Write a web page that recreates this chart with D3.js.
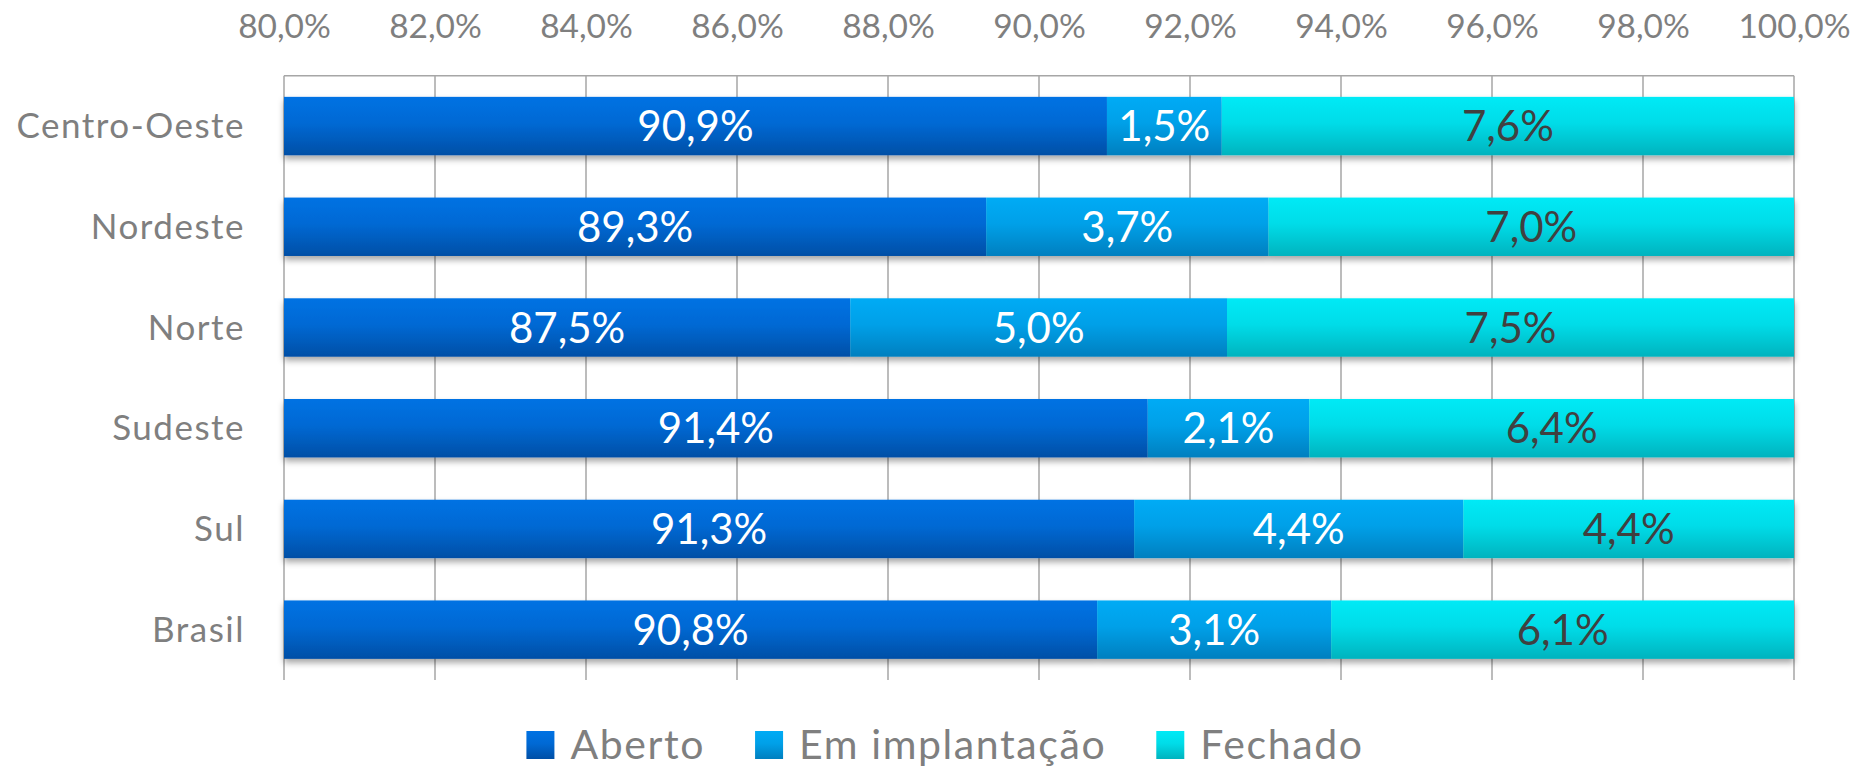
<!DOCTYPE html>
<html>
<head>
<meta charset="utf-8">
<script src="https://cdn.jsdelivr.net/npm/d3@7/dist/d3.min.js"></script>
<style>
  html, body { margin: 0; padding: 0; background: #ffffff; }
  svg { display: block; font-family: Lato, "Open Sans", sans-serif; }
</style>
</head>
<body>
<svg id="chart" width="1854" height="769"></svg>
<script>
// ---- Data ----
const categories = ["Centro-Oeste", "Nordeste", "Norte", "Sudeste", "Sul", "Brasil"];
const seriesNames = ["Aberto", "Em implantação", "Fechado"];
const aberto = [90.90, 89.30, 87.50, 91.44, 91.26, 90.77];
const emImplantacao = [1.52, 3.74, 4.99, 2.14, 4.36, 3.10];
const fechado = [7.58, 6.96, 7.51, 6.42, 4.38, 6.13];
const tickValues = [80, 82, 84, 86, 88, 90, 92, 94, 96, 98, 100];

const seriesValues = [aberto, emImplantacao, fechado];
const colorsTop = ["#0072e3", "#00abf5", "#00eaf6"];
const colorsBottom = ["#004fa6", "#007fbf", "#00b3be"];
const labelColors = ["#ffffff", "#ffffff", "#404040"];

const locale = d3.formatLocale({decimal: ",", thousands: ".", grouping: [3], currency: ["R$", ""]});
const fmt = locale.format(".1f");

const svg = d3.select("#chart");

const x = d3.scaleLinear().domain([80, 100]).range([284, 1794]).clamp(true);
const y = d3.scaleBand().domain(categories).range([75.7, 680]).paddingInner(0.42).paddingOuter(0.21);

// defs: gradients + shadow
const defs = svg.append("defs");
seriesNames.forEach((s, i) => {
  const g = defs.append("linearGradient").attr("id", "grad" + i)
    .attr("x1", 0).attr("y1", 0).attr("x2", 0).attr("y2", 1);
  g.append("stop").attr("offset", "0%").attr("stop-color", colorsTop[i]);
  g.append("stop").attr("offset", "45%").attr("stop-color", d3.interpolateRgb(colorsTop[i], colorsBottom[i])(0.25));
  g.append("stop").attr("offset", "100%").attr("stop-color", colorsBottom[i]);
});
const f = defs.append("filter").attr("id", "shadow").attr("x", "-5%").attr("y", "-30%").attr("width", "110%").attr("height", "170%");
f.append("feDropShadow").attr("dx", 0).attr("dy", 4).attr("stdDeviation", 3)
  .attr("flood-color", "#000").attr("flood-opacity", 0.35);

// gridlines
const grid = svg.append("g");
grid.selectAll("line.v").data(tickValues).enter().append("line")
  .attr("x1", d => x(d)).attr("x2", d => x(d))
  .attr("y1", y.range()[0]).attr("y2", y.range()[1])
  .attr("stroke", "#a6a6a6").attr("stroke-width", 1.5);
grid.append("line")
  .attr("x1", x(80)).attr("x2", x(100))
  .attr("y1", y.range()[0]).attr("y2", y.range()[0])
  .attr("stroke", "#a6a6a6").attr("stroke-width", 1.5);

// top axis labels
const axisTop = d3.axisTop(x).tickValues(tickValues).tickSize(0).tickPadding(0)
  .tickFormat(d => fmt(d) + "%");
const axG = svg.append("g").attr("transform", "translate(0,38)").call(axisTop);
axG.select(".domain").remove();
axG.selectAll("text").attr("font-size", 33.5).attr("fill", "#7f7f7f")
  .attr("font-family", "Lato, sans-serif").attr("dy", 0);

// category labels
const axisLeft = d3.axisLeft(y).tickSize(0).tickPadding(0);
const ayG = svg.append("g").attr("transform", "translate(245,0)").call(axisLeft);
ayG.select(".domain").remove();
ayG.selectAll("text").attr("font-size", 35).attr("fill", "#7f7f7f")
  .attr("letter-spacing", 1.5)
  .attr("font-family", "Lato, sans-serif").attr("dy", "0.35em");

// stacked data
const rows = categories.map((c, ci) => {
  let acc = 0;
  return seriesValues.map((arr, si) => {
    const v = arr[ci];
    const seg = {cat: c, si, v, x0: acc, x1: acc + v};
    acc += v;
    return seg;
  });
});

const barsG = svg.append("g");
rows.forEach(row => {
  const g = barsG.append("g").attr("filter", "url(#shadow)");
  g.selectAll("rect").data(row).enter().append("rect")
    .attr("x", d => x(d.x0))
    .attr("width", d => Math.max(0, x(d.x1) - x(d.x0)))
    .attr("y", d => y(d.cat))
    .attr("height", y.bandwidth())
    .attr("fill", d => `url(#grad${d.si})`);
});

const labelsG = svg.append("g");
rows.forEach(row => {
  labelsG.selectAll(null).data(row).enter().append("text")
    .attr("x", d => (x(d.x0) + x(d.x1)) / 2)
    .attr("y", d => y(d.cat) + y.bandwidth() / 2)
    .attr("dy", "0.36em")
    .attr("text-anchor", "middle")
    .attr("font-size", 42)
    .attr("fill", d => labelColors[d.si])
    .text(d => fmt(d.v) + "%");
});

// legend
const legend = svg.append("g");
const items = legend.selectAll("g").data(seriesNames).enter().append("g");
items.append("rect").attr("width", 28).attr("height", 28).attr("y", 731)
  .attr("fill", (d, i) => `url(#grad${i})`);
items.append("text").attr("x", 44).attr("y", 759).attr("font-size", 41)
  .attr("letter-spacing", 1.6)
  .attr("fill", "#7f7f7f").text(d => d);
const widths = [];
items.each(function() {
  const tw = d3.select(this).select("text").node().getComputedTextLength();
  widths.push(44 + tw);
});
const gap = 50;
const total = d3.sum(widths) + gap * (widths.length - 1);
let start = 945 - total / 2;
items.attr("transform", (d, i) => {
  const t = `translate(${start},0)`;
  start += widths[i] + gap;
  return t;
});
</script>
</body>
</html>
